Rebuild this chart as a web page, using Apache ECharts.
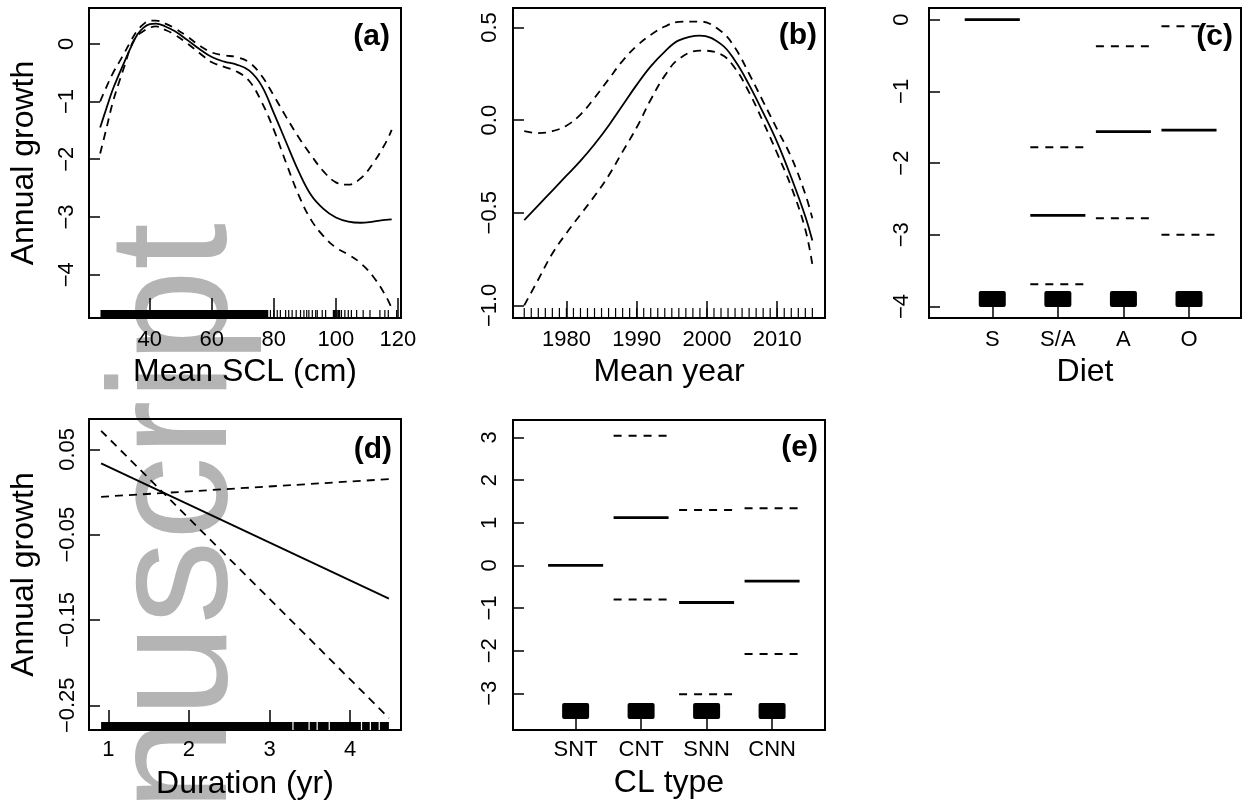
<!DOCTYPE html>
<html>
<head>
<meta charset="utf-8">
<script src="https://cdn.jsdelivr.net/npm/echarts@6/dist/echarts.min.js"></script>
<style>
  html, body { margin: 0; padding: 0; background: #fff; }
  #chart { width: 1244px; height: 808px; }
</style>
</head>
<body>
<div id="chart"></div>
<script>
  // (a) Mean SCL smooth term
  const sclX     = [24, 26, 28, 30, 32, 34, 36, 38, 40, 42, 45, 48, 52, 56, 60, 64, 68, 72, 76, 80, 84, 88, 92, 96, 100, 104, 108, 112, 116, 118];
  const sclFit   = [-1.45, -1.12, -0.80, -0.54, -0.29, -0.05, 0.16, 0.28, 0.34, 0.35, 0.30, 0.22, 0.07, -0.09, -0.23, -0.31, -0.36, -0.46, -0.72, -1.20, -1.71, -2.21, -2.62, -2.86, -3.01, -3.08, -3.10, -3.08, -3.05, -3.04];
  const sclUpper = [-1.00, -0.75, -0.52, -0.33, -0.14, 0.06, 0.23, 0.34, 0.40, 0.40, 0.35, 0.27, 0.13, -0.03, -0.15, -0.20, -0.23, -0.32, -0.55, -0.90, -1.27, -1.62, -1.93, -2.21, -2.40, -2.44, -2.33, -2.07, -1.72, -1.49];
  const sclLower = [-1.90, -1.47, -1.03, -0.68, -0.36, -0.03, 0.14, 0.22, 0.28, 0.30, 0.24, 0.16, 0.01, -0.16, -0.32, -0.40, -0.48, -0.64, -1.00, -1.49, -2.07, -2.62, -3.05, -3.33, -3.53, -3.65, -3.80, -4.03, -4.36, -4.58];
  const sclRugBand = [24.1, 78.2];
  const sclRug = [78.9, 80, 81.1, 82.1, 83.8, 84.8, 85.9, 87.2, 88.6, 89.7, 90.6, 91.3, 92.4, 93.5, 94, 95.6, 96.7, 99.2, 99.6, 100, 100.4, 100.8, 101.2, 101.8, 102.9, 104, 105, 106.7, 108.8, 111, 114.2, 115.8, 116.9, 119.6];
  const sclTicks = [40, 60, 80, 100, 120];
  const growthTicksA = [0, -1, -2, -3, -4];

  // (b) Mean year smooth term
  const yearX     = [1974, 1976, 1978, 1980, 1982, 1984, 1986, 1988, 1990, 1992, 1994, 1996, 1999, 2002, 2004, 2006, 2008, 2010, 2012, 2014, 2015];
  const yearFit   = [-0.54, -0.46, -0.38, -0.30, -0.22, -0.13, -0.03, 0.08, 0.19, 0.29, 0.37, 0.43, 0.456, 0.41, 0.32, 0.19, 0.04, -0.12, -0.31, -0.52, -0.65];
  const yearUpper = [-0.06, -0.07, -0.06, -0.03, 0.03, 0.12, 0.22, 0.32, 0.40, 0.46, 0.505, 0.53, 0.532, 0.48, 0.39, 0.25, 0.10, -0.05, -0.20, -0.40, -0.53];
  const yearLower = [-1.00, -0.86, -0.72, -0.61, -0.51, -0.41, -0.30, -0.17, -0.04, 0.11, 0.24, 0.33, 0.375, 0.355, 0.28, 0.15, -0.01, -0.18, -0.36, -0.59, -0.78];
  const yearRug = [1974, 1975, 1976, 1977, 1978, 1979, 1980, 1981, 1982, 1983, 1984, 1985, 1986, 1987, 1988, 1989, 1990, 1991, 1992, 1993, 1994, 1995, 1996, 1997, 1998, 1999, 2000, 2001, 2002, 2003, 2004, 2005, 2006, 2007, 2008, 2009, 2010, 2011, 2012, 2013, 2014, 2015];
  const yearTicks = [1980, 1990, 2000, 2010];
  const growthTicksB = [0.5, 0, -0.5, -1];

  // (c) Diet
  const dietLevels = ['S', 'S/A', 'A', 'O'];
  const dietFit   = [0, -2.73, -1.56, -1.54];
  const dietUpper = [null, -1.78, -0.37, -0.09];
  const dietLower = [null, -3.69, -2.77, -3.00];
  const growthTicksC = [0, -1, -2, -3, -4];

  // (d) Duration
  const durX     = [0.91, 4.48];
  const durFit   = [0.0336, -0.125];
  const durUpper = [-0.0056, 0.0151];
  const durLower = [0.0718, -0.265];
  const durRugBand = [0.91, 4.48];
  const durRugGaps = [3.29, 3.49, 3.59, 3.74, 4.14, 4.25, 4.36];
  const durTicks = [1, 2, 3, 4];
  const growthTicksD = [0.05, -0.05, -0.15, -0.25];

  // (e) CL type
  const clLevels = ['SNT', 'CNT', 'SNN', 'CNN'];
  const clFit   = [0, 1.12, -0.87, -0.37];
  const clUpper = [null, 3.04, 1.30, 1.34];
  const clLower = [null, -0.80, -3.02, -2.08];
  const growthTicksE = [3, 2, 1, 0, -1, -2, -3];

  const FONT = '"Liberation Sans", Arial, Helvetica, sans-serif';
  const DASH = [8, 6];

  // plot ranges (R adds 4% on each side)
  const ranges = [
    {x: [20.4, 121.0], y: [-4.75, 0.62]},
    {x: [1972.4, 2016.8], y: [-1.068, 0.605]},
    {x: [0.035, 4.793], y: [-4.16, 0.163]},
    {x: [0.76, 4.63], y: [-0.279, 0.0856]},
    {x: [0.044, 4.808], y: [-3.86, 3.41]}
  ];

  let minus = v => String(v).replace('-', '\u2212');

  function xAxisFor(i, ticks, name, opt) {
    return {
      type: 'value', gridIndex: i,
      min: ranges[i].x[0], max: ranges[i].x[1],
      axisLine: {show: false, onZero: false},
      splitLine: {show: false},
      axisTick: {show: true, inside: true, length: opt.tick, customValues: ticks,
        lineStyle: {color: '#000', width: 1.5}},
      axisLabel: {customValues: ticks, formatter: opt.fmt || minus, color: '#000',
        fontSize: 22, fontFamily: FONT, margin: opt.margin},
      name: name, nameLocation: 'middle', nameGap: opt.gap,
      nameTextStyle: {color: '#000', fontSize: 32, fontFamily: FONT}
    };
  }

  function yAxisFor(i, ticks, name, opt) {
    return {
      type: 'value', gridIndex: i,
      min: ranges[i].y[0], max: ranges[i].y[1],
      axisLine: {show: false, onZero: false},
      splitLine: {show: false},
      axisTick: {show: true, inside: true, length: 11, customValues: ticks,
        lineStyle: {color: '#000', width: 1.5}},
      axisLabel: {customValues: ticks, formatter: opt.fmt || minus, color: '#000',
        fontSize: 22, fontFamily: FONT, margin: opt.margin, rotate: 90},
      name: name, nameLocation: 'middle', nameGap: 49,
      nameTextStyle: {color: '#000', fontSize: 32, fontFamily: FONT}
    };
  }

  function curve(i, xs, ys, dashed) {
    return {
      type: 'line', xAxisIndex: i, yAxisIndex: i,
      data: xs.map((x, k) => [x, ys[k]]),
      smooth: 0.4, showSymbol: false, silent: true,
      lineStyle: {color: '#000', width: 1.8, type: dashed ? DASH : 'solid'}
    };
  }

  // horizontal level segments for the factor terms
  function levels(i, vals, dashed) {
    let data = [];
    vals.forEach((v, k) => { if (v !== null) data.push([k + 1, v]); });
    return {
      type: 'custom', xAxisIndex: i, yAxisIndex: i, silent: true, data: data,
      renderItem: (p, api) => {
        let a = api.coord([api.value(0) - 0.42, api.value(1)]);
        let b = api.coord([api.value(0) + 0.42, api.value(1)]);
        return {type: 'line', shape: {x1: a[0], y1: a[1], x2: b[0], y2: b[1]},
          style: {stroke: '#000', lineWidth: dashed ? 2 : 2.8, lineDash: dashed ? [8, 7] : null}};
      }
    };
  }

  // rug ticks drawn up from the bottom of the box
  function rug(i, xs, len, color, width) {
    let y0 = ranges[i].y[0];
    return {
      type: 'custom', xAxisIndex: i, yAxisIndex: i, silent: true,
      data: xs.map(x => [x, y0]),
      renderItem: (p, api) => {
        let c = api.coord([api.value(0), y0]);
        return {type: 'line', shape: {x1: c[0], y1: c[1], x2: c[0], y2: c[1] - len},
          style: {stroke: color, lineWidth: width}};
      }
    };
  }

  function rugBand(i, band, h) {
    let y0 = ranges[i].y[0];
    return {
      type: 'custom', xAxisIndex: i, yAxisIndex: i, silent: true,
      data: [[band[0], y0, band[1]]],
      renderItem: (p, api) => {
        let a = api.coord([api.value(0), y0]);
        let b = api.coord([api.value(2), y0]);
        return {type: 'rect', shape: {x: a[0], y: a[1] - h, width: b[0] - a[0], height: h},
          style: {fill: '#000'}};
      }
    };
  }

  // jittered factor rug shows up as a block over each level
  function factorRug(i, n) {
    let y0 = ranges[i].y[0];
    let data = [];
    for (let k = 1; k <= n; k++) data.push([k, y0]);
    return {
      type: 'custom', xAxisIndex: i, yAxisIndex: i, silent: true, data: data,
      renderItem: (p, api) => {
        let c = api.coord([api.value(0), y0]);
        return {type: 'rect', shape: {x: c[0] - 13.5, y: c[1] - 27, width: 27, height: 16, r: 2},
          style: {fill: '#000'}};
      }
    };
  }

  function tag(text, x, y) {
    return {type: 'text', x: x, y: y, z: 10,
      style: {text: text, fill: '#000', font: 'bold 30px ' + FONT,
        align: 'right', verticalAlign: 'middle', textAlign: 'right', textVerticalAlign: 'middle'}};
  }

  let chart = echarts.init(document.getElementById('chart'));
  let gridStyle = {show: true, borderColor: '#000', borderWidth: 2, backgroundColor: 'transparent', containLabel: false};

  let option = {
    animation: false,
    backgroundColor: '#fff',
    grid: [
      Object.assign({left: 89, top: 8, width: 312, height: 310}, gridStyle),
      Object.assign({left: 513, top: 8, width: 312, height: 310}, gridStyle),
      Object.assign({left: 929, top: 8, width: 312, height: 310}, gridStyle),
      Object.assign({left: 89, top: 419, width: 312, height: 311}, gridStyle),
      Object.assign({left: 513, top: 420, width: 312, height: 310}, gridStyle)
    ],
    xAxis: [
      xAxisFor(0, sclTicks, 'Mean SCL (cm)', {tick: 20, margin: 11, gap: 38}),
      xAxisFor(1, yearTicks, 'Mean year', {tick: 17, margin: 11, gap: 38}),
      xAxisFor(2, [1, 2, 3, 4], 'Diet', {tick: 11, margin: 11, gap: 38, fmt: v => dietLevels[v - 1]}),
      xAxisFor(3, durTicks, 'Duration (yr)', {tick: 20, margin: 9, gap: 38}),
      xAxisFor(4, [1, 2, 3, 4], 'CL type', {tick: 11, margin: 9, gap: 37, fmt: v => clLevels[v - 1]})
    ],
    yAxis: [
      yAxisFor(0, growthTicksA, 'Annual growth', {margin: 11}),
      yAxisFor(1, growthTicksB, '', {margin: 12, fmt: v => minus(v.toFixed(1))}),
      yAxisFor(2, growthTicksC, '', {margin: 16}),
      yAxisFor(3, growthTicksD, 'Annual growth', {margin: 10, fmt: v => minus(v.toFixed(2))}),
      yAxisFor(4, growthTicksE, '', {margin: 12})
    ],
    graphic: [
      {type: 'text', x: 180, y: 223, rotation: Math.PI / 2, z: -10, silent: true,
        style: {text: 'Manuscript', fill: '#b4b4b4', font: '168px ' + FONT,
          align: 'right', verticalAlign: 'middle', textAlign: 'right', textVerticalAlign: 'middle'}},
      tag('(a)', 390, 37),
      tag('(b)', 817, 36),
      tag('(c)', 1233, 37),
      tag('(d)', 392, 450),
      tag('(e)', 818, 448)
    ],
    series: [
      curve(0, sclX, sclFit, false),
      curve(0, sclX, sclUpper, true),
      curve(0, sclX, sclLower, true),
      rugBand(0, sclRugBand, 8),
      rug(0, sclRug, 8, '#000', 1.2),

      curve(1, yearX, yearFit, false),
      curve(1, yearX, yearUpper, true),
      curve(1, yearX, yearLower, true),
      rug(1, yearRug, 10, '#000', 1.2),

      levels(2, dietFit, false),
      levels(2, dietUpper, true),
      levels(2, dietLower, true),
      factorRug(2, dietLevels.length),

      curve(3, durX, durFit, false),
      curve(3, durX, durUpper, true),
      curve(3, durX, durLower, true),
      rugBand(3, durRugBand, 8),
      rug(3, durRugGaps, 8, '#fff', 1.2),

      levels(4, clFit, false),
      levels(4, clUpper, true),
      levels(4, clLower, true),
      factorRug(4, clLevels.length)
    ]
  };
  chart.setOption(option);
</script>
</body>
</html>
